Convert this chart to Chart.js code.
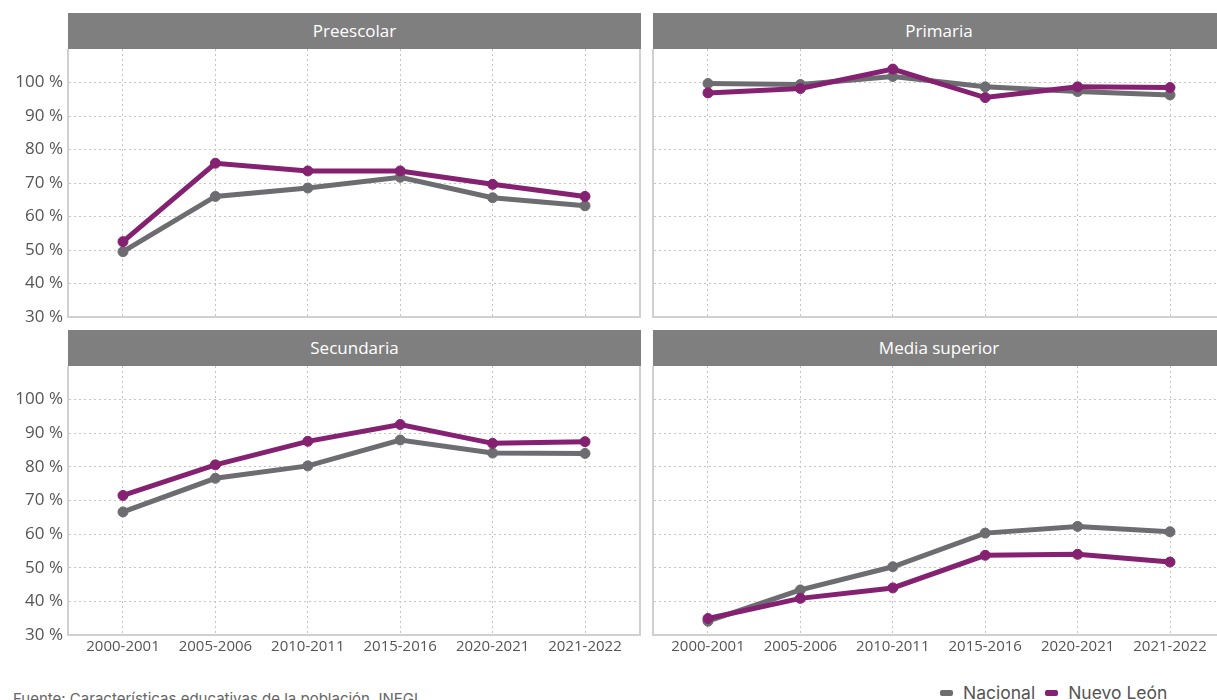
<!DOCTYPE html>
<html><head><meta charset="utf-8">
<script src="https://cdn.jsdelivr.net/npm/chart.js@4.4.1/dist/chart.umd.min.js"></script>
<style>
html,body{margin:0;padding:0;background:#fff;overflow:hidden;}
#wrap{position:relative;width:1217px;height:700px;overflow:hidden;font-family:'Open Sans',sans-serif;}
.hdr{position:absolute;height:36px;background:#7f7f7f;color:#fff;font-size:17px;line-height:36px;text-align:center;}
canvas{position:absolute;}
#legend{position:absolute;left:940px;top:682px;font-family:Inter,sans-serif;font-size:17.5px;color:#555;white-space:nowrap;}
#legend span.box{display:inline-block;width:13px;height:6px;border-radius:2px;margin-right:10px;vertical-align:middle;position:relative;top:-1px;}
#legend span.item{margin-right:10px;}
#source{position:absolute;left:13px;top:689px;font-family:Inter,sans-serif;font-size:15px;color:#666;white-space:nowrap;}
</style></head>
<body>
<div id="wrap">
  <div class="hdr" id="h0" style="left:68px;top:13px;width:573px;"></div>
  <div class="hdr" id="h1" style="left:653px;top:13px;width:572px;"></div>
  <div class="hdr" id="h2" style="left:68px;top:330px;width:573px;"></div>
  <div class="hdr" id="h3" style="left:653px;top:330px;width:572px;"></div>
  <canvas id="c0" width="645" height="285" style="left:0;top:49px;"></canvas>
  <canvas id="c1" width="580" height="285" style="left:650px;top:49px;"></canvas>
  <canvas id="c2" width="645" height="300" style="left:0;top:366px;"></canvas>
  <canvas id="c3" width="580" height="300" style="left:650px;top:366px;"></canvas>
  <div id="source"></div>
  <div id="legend"></div>
</div>
<script>
// ---- data ----
const categories = ['2000-2001','2005-2006','2010-2011','2015-2016','2020-2021','2021-2022'];
const panelTitles = ['Preescolar','Primaria','Secundaria','Media superior'];
const seriesNames = ['Nacional','Nuevo León'];
const yTicks = [30,40,50,60,70,80,90,100];

const preescolarNacional = [49.5, 66.0, 68.5, 71.7, 65.6, 63.2];
const preescolarNL       = [52.5, 75.9, 73.6, 73.6, 69.6, 66.0];
const primariaNacional   = [99.7, 99.4, 101.8, 98.7, 97.3, 96.3];
const primariaNL         = [96.9, 98.2, 104.0, 95.5, 98.7, 98.5];
const secundariaNacional = [66.6, 76.6, 80.3, 88.0, 84.1, 84.0];
const secundariaNL       = [71.5, 80.6, 87.6, 92.6, 87.0, 87.5];
const mediaNacional      = [34.1, 43.4, 50.3, 60.3, 62.3, 60.7];
const mediaNL            = [34.9, 40.9, 44.0, 53.7, 54.0, 51.7];

const sourceText = 'Fuente: Características educativas de la población, INEGI.';

// ---- styles ----
const colNac = '#6d6d71';
const colNL = '#852171';
const tickColor = '#555555';
const gridColor = '#c4c4c4';
const axisColor = '#d0d0d0';

panelTitles.forEach((t,i)=>{ document.getElementById('h'+i).textContent = t; });
document.getElementById('source').textContent = sourceText;
const lg = document.getElementById('legend');
[colNac, colNL].forEach((c,i)=>{
  const it = document.createElement('span'); it.className='item';
  const b = document.createElement('span'); b.className='box'; b.style.background=c;
  it.appendChild(b); it.appendChild(document.createTextNode(seriesNames[i]));
  lg.appendChild(it);
});

const rightBorder = {
  id:'rightBorder',
  beforeDatasetsDraw(c){
    const a=c.chartArea, ctx=c.ctx;
    ctx.save(); ctx.strokeStyle=axisColor; ctx.lineWidth=2;
    ctx.beginPath(); ctx.moveTo(a.right, a.top); ctx.lineTo(a.right, a.bottom+1); ctx.stroke();
    ctx.restore();
  }
};

function toPts(arr){ return arr.map((v,i)=>({x:i, y:v})); }

function makeChart(id, nac, nl, showY, showX){
  const ds = (label, data, color, order) => ({
    label, data: toPts(data), borderColor: color, backgroundColor: color,
    borderWidth: 5, pointRadius: 5, pointHoverRadius: 5, pointBorderWidth: 1,
    pointBackgroundColor: color, pointBorderColor: color, tension: 0, order, clip: false
  });
  new Chart(document.getElementById(id), {
    type: 'line',
    data: { datasets: [ ds(seriesNames[0], nac, colNac, 1), ds(seriesNames[1], nl, colNL, 0) ] },
    options: {
      responsive: false, animation: false, devicePixelRatio: 1,
      layout: { autoPadding: false, padding: { left: showY ? 0 : 3, right: 5, top: 0, bottom: 0 } },
      plugins: { legend: { display: false }, tooltip: { enabled: false } },
      scales: {
        x: {
          type: 'linear', min: -0.595, max: 5.595,
          afterBuildTicks: s => { s.ticks = categories.map((c,i)=>({value:i})); },
          afterFit: s => { s.height = showX ? 31 : 17; s.paddingLeft = 0; s.paddingRight = 0; },
          ticks: {
            display: showX, autoSkip: false, maxRotation: 0, padding: 3,
            color: tickColor, font: { family: "'Open Sans', sans-serif", size: 15 },
            callback: v => categories[v]
          },
          grid: { color: gridColor, lineWidth: 1, drawTicks: false },
          border: { display: true, color: axisColor, width: 2, dash: [2,3] }
        },
        y: {
          min: 30, max: 110,
          afterBuildTicks: s => { s.ticks = yTicks.map(v=>({value:v})); },
          afterFit: s => { s.width = showY ? 68 : 0; s.paddingTop = 0; s.paddingBottom = 0; },
          ticks: {
            display: showY, padding: 5, color: tickColor,
            font: { family: "'Open Sans', sans-serif", size: 17 },
            callback: v => v + ' %'
          },
          grid: { color: gridColor, lineWidth: 1, drawTicks: false },
          border: { display: true, color: axisColor, width: 2, dash: [2,3] }
        }
      }
    },
    plugins: [rightBorder]
  });
}

makeChart('c0', preescolarNacional, preescolarNL, true, false);
makeChart('c1', primariaNacional, primariaNL, false, false);
makeChart('c2', secundariaNacional, secundariaNL, true, true);
makeChart('c3', mediaNacional, mediaNL, false, true);
</script>
</body></html>
